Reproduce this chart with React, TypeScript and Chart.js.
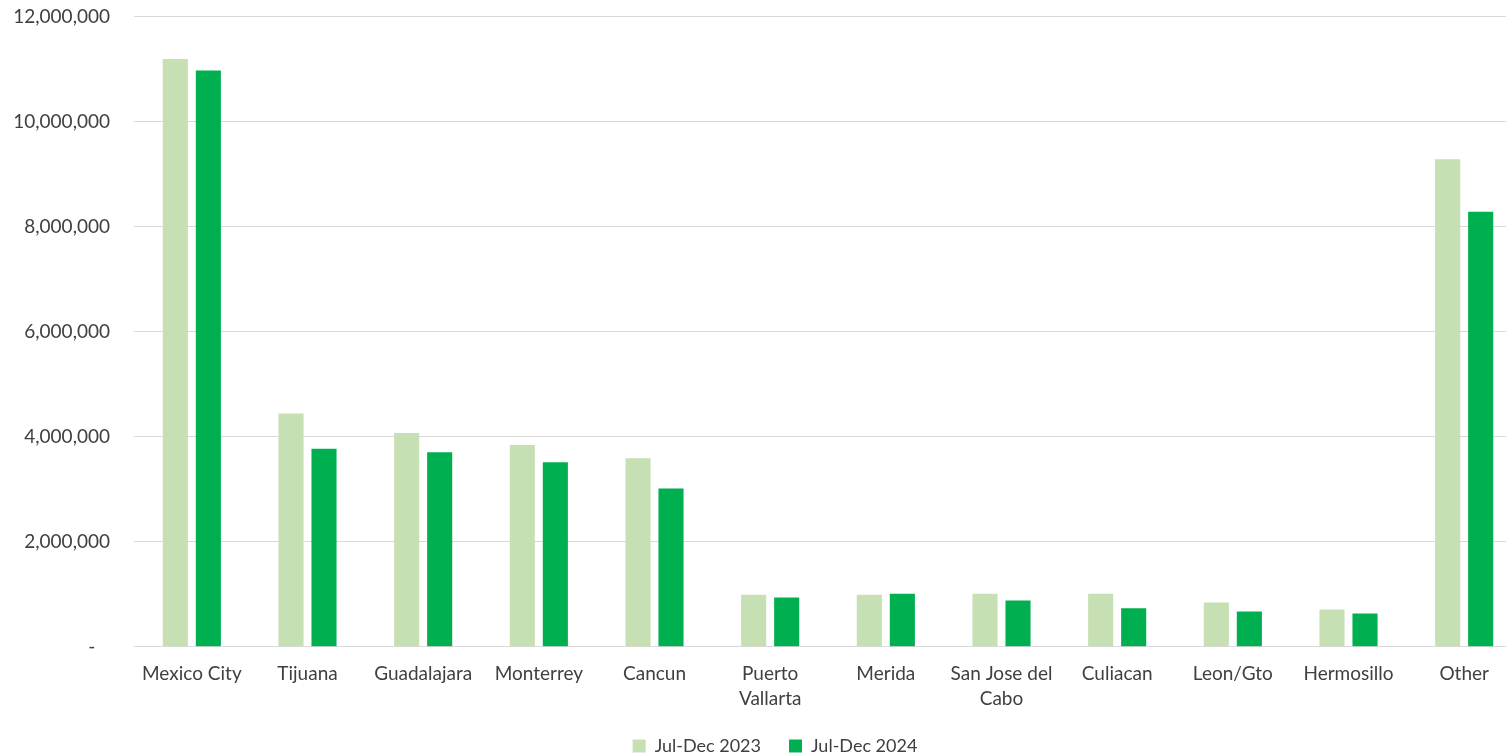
import React, { useEffect, useRef } from "react";
import { Chart, registerables } from "chart.js";

Chart.register(...registerables);

const categories: (string | string[])[] = [
  "Mexico City",
  "Tijuana",
  "Guadalajara",
  "Monterrey",
  "Cancun",
  ["Puerto", "Vallarta"],
  "Merida",
  ["San Jose del", "Cabo"],
  "Culiacan",
  "Leon/Gto",
  "Hermosillo",
  "Other",
];

const series2023Label = "Jul-Dec 2023";
const series2024Label = "Jul-Dec 2024";

const values2023 = [11190000, 4440000, 4070000, 3840000, 3590000, 990000, 990000, 1010000, 1010000, 840000, 710000, 9280000];
const values2024 = [10970000, 3770000, 3700000, 3510000, 3010000, 935000, 1010000, 880000, 730000, 670000, 630000, 8280000];

const yTicks = [0, 2000000, 4000000, 6000000, 8000000, 10000000, 12000000];

const FONT = "Lato, 'Open Sans', sans-serif";
const TEXT = "#404040";

const legendShift = {
  id: "legendShift",
  afterLayout(chart: any) {
    if (chart.legend) {
      chart.legend.left += 14;
      chart.legend.right += 14;
    }
  },
};

export default function App() {
  const ref = useRef<HTMLCanvasElement | null>(null);

  useEffect(() => {
    document.body.style.overflow = "hidden";
    const ctx = ref.current;
    if (!ctx) return;
    const chart = new Chart(ctx, {
      type: "bar",
      data: {
        labels: categories,
        datasets: [
          {
            label: series2023Label,
            data: values2023,
            backgroundColor: "#C6E0B4",
            borderWidth: 0,
            categoryPercentage: 0.571,
            barPercentage: 0.76,
          },
          {
            label: series2024Label,
            data: values2024,
            backgroundColor: "#00B050",
            borderWidth: 0,
            categoryPercentage: 0.571,
            barPercentage: 0.76,
          },
        ],
      },
      plugins: [legendShift],
      options: {
        animation: false,
        responsive: true,
        maintainAspectRatio: false,
        layout: { padding: { left: 0, right: 0, top: 0, bottom: 0 } },
        plugins: {
          tooltip: { enabled: false },
          legend: {
            position: "bottom",
            labels: {
              boxWidth: 13,
              boxHeight: 13,
              padding: 28,
              color: TEXT,
              font: { family: FONT, size: 18 },
            },
          },
        },
        scales: {
          x: {
            grid: { display: false, drawTicks: false },
            border: { display: true, color: "#D9D9D9", width: 1 },
            ticks: {
              color: TEXT,
              font: { family: FONT, size: 19, lineHeight: 1.35 },
              padding: 14,
              maxRotation: 0,
              autoSkip: false,
            },
            afterFit: (axis: any) => {
              axis.height -= 17;
            },
          },
          y: {
            min: 0,
            max: 12000000,
            afterBuildTicks: (axis: any) => {
              axis.ticks = yTicks.map((v) => ({ value: v }));
            },
            afterFit: (axis: any) => {
              axis.width = 134;
            },
            grid: { color: "#D9D9D9", lineWidth: 1, drawTicks: false },
            border: { display: false },
            ticks: {
              color: TEXT,
              font: { family: FONT, size: 19 },
              padding: 24,
              callback: (v: any) => (Number(v) === 0 ? "-   " : Number(v).toLocaleString("en-US")),
            },
          },
        },
      },
    });
    return () => chart.destroy();
  }, []);

  return (
    <div style={{ position: "absolute", left: 0, top: -19, width: 1522, height: 784 }}>
      <canvas ref={ref} />
    </div>
  );
}
